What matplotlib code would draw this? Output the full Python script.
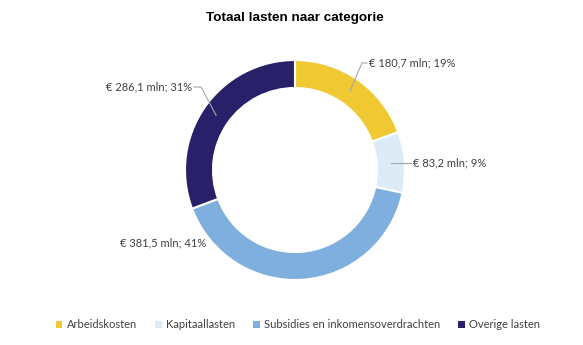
import matplotlib
matplotlib.use("Agg")
import matplotlib.pyplot as plt
import numpy as np
from matplotlib.patches import Patch

categories = ["Arbeidskosten", "Kapitaallasten", "Subsidies en inkomensoverdrachten", "Overige lasten"]
values = [180.7, 83.2, 381.5, 286.1]
colors = ["#F0C832", "#DDEBF7", "#7EAFDF", "#29206A"]
title = "Totaal lasten naar categorie"

W, H = 583, 345
fig = plt.figure(figsize=(W/100, H/100), dpi=100)
ax = fig.add_axes([0, 0, 1, 1])
ax.axis("off")

cx, cy = 295, H - 170
R = 110
width = 28
wedges, _ = ax.pie(values, colors=colors, startangle=90, counterclock=False,
                   center=(cx, cy), radius=R,
                   wedgeprops=dict(width=width, edgecolor="white", linewidth=1.5))
ax.set_xlim(0, W)
ax.set_ylim(0, H)
ax.set_aspect("equal")

total = sum(values)
txtcolor = "#404040"
fam = ["Lato", "DejaVu Sans"]

def fmt(v):
    return "€ " + f"{v:.1f}".replace(".", ",") + f" mln; {round(100*v/total)}%"

cum = np.cumsum([0] + values)
mids = [90 - 360 * (cum[i] + values[i] / 2) / total for i in range(len(values))]
rm = R - width / 2

def pt(i, r=rm):
    a = np.deg2rad(mids[i])
    return cx + r * np.cos(a), cy + r * np.sin(a)

lc = "#A6A6A6"
fs = 8
# Arbeidskosten
x0, y0 = pt(0)
ax.plot([x0, x0 + 12, x0 + 17], [y0, H - 63, H - 63], color=lc, lw=0.8)
ax.text(x0 + 19, H - 63, fmt(values[0]), ha="left", va="center", fontsize=fs, color=txtcolor, family=fam)
# Kapitaallasten
x1, y1 = pt(1)
ax.plot([x1, x1 + 20], [y1, y1], color=lc, lw=0.8)
ax.text(x1 + 22, y1, fmt(values[1]), ha="left", va="center", fontsize=fs, color=txtcolor, family=fam)
# Subsidies
ax.text(206, H - 243, fmt(values[2]), ha="right", va="center", fontsize=fs, color=txtcolor, family=fam)
# Overige
x3, y3 = pt(3)
ax.plot([x3, x3 - 15, x3 - 22], [y3, H - 87, H - 87], color=lc, lw=0.8)
ax.text(x3 - 24, H - 87, fmt(values[3]), ha="right", va="center", fontsize=fs, color=txtcolor, family=fam)

fig.text(295 / W, 1 - 18 / H, title, ha="center", va="center", fontsize=9.7,
         fontweight="bold", family="Liberation Sans", color="#000000")

handles = [Patch(facecolor=c, edgecolor="none") for c in colors]
leg = fig.legend(handles, categories, loc="center", bbox_to_anchor=(298 / W, 1 - 325 / H),
                 ncol=4, frameon=False, handlelength=0.6, handleheight=0.6,
                 handletextpad=0.4, columnspacing=1.6,
                 prop=dict(family=fam, size=fs))
for t in leg.get_texts():
    t.set_color(txtcolor)

fig.savefig("out.png", dpi=100)
